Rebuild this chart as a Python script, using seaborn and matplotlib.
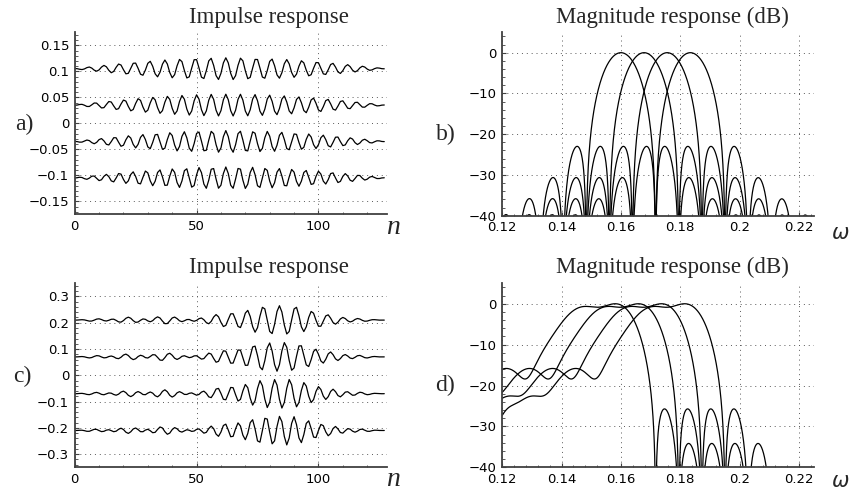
import numpy as np
import pandas as pd
import matplotlib
matplotlib.use("Agg")
import matplotlib.pyplot as plt
import matplotlib.ticker as ticker
import seaborn as sns

# ---- values ----
N_TAPS = 128                                   # filter length (n axis 0..127)
CENTER_FREQS = [0.1600, 0.1678, 0.1756, 0.1834]  # peaks of panel b / top edges of panel d
IR_OFFSETS_A = [0.105, 0.035, -0.035, -0.105]  # vertical offsets of the curves in a)
IR_PEAK_A = 0.021
IR_PEAK_POS_A = 62                             # a carrier peak near n=62
IR_OFFSETS_C = [0.21, 0.07, -0.07, -0.21]      # vertical offsets of the curves in c)
IR_PEAK_C = 0.055

# panel d, curve with top edge at 0.16: bins from 0.16 (1 bin = 1/128) and level in dB
D_BINS = [-8.12, -7.6, -7.12, -6.6, -6.12, -5.6, -5.0, -4.55, -4.1, -3.7, -3.23, -3.0,
          -2.77, -2.55, -2.34, -1.91, -1.7, -1.48, -1.25, -1.0, -0.75, -0.5, -0.25, 0.0,
          0.2, 0.39, 0.70, 0.90, 1.18, 1.35, 2.0, 3.0, 4.0]
D_DB = [-26.8, -24.0, -22.6, -22.0, -21.1, -17.5, -15.3, -16.3, -17.7, -14.5, -10.0, -7.8,
        -5.7, -4.0, -2.4, -0.8, -0.4, -0.15, 0.0, 0.0, 0.0, 0.0, 0.0, 0.0,
        0.0, -0.4, -4.9, -10.0, -20.0, -28.0, -25.5, -34.0, -39.5]
D_DELAY_PASS = 84     # burst position in c)
D_DELAY_EDGE = 98     # late tail of the burst (lower band edge)
D_DELAY_STOP = 32     # pre-ringing position in c)

n = np.arange(N_TAPS)
win = np.sin(np.pi * (n + 0.5) / N_TAPS)
freq = np.linspace(0.12, 0.226, 2200)


def mag_db(h, f):
    H = np.exp(-2j * np.pi * np.outer(f, n)) @ h
    m = np.abs(H)
    return 20 * np.log10(np.maximum(m / m.max(), 1e-9))


def tick_fmt(v, p):
    return ("%g" % round(v, 4)).replace("-", "\u2212")


# a) / b): sine-window bandpass filters
rows_a, rows_b = [], []
for i, (fc, off) in enumerate(zip(CENTER_FREQS, IR_OFFSETS_A)):
    h = win * np.cos(2 * np.pi * fc * (n - IR_PEAK_POS_A))
    rows_a.append(pd.DataFrame({"n": n, "h": off + IR_PEAK_A * h, "curve": i}))
    rows_b.append(pd.DataFrame({"w": freq, "db": mag_db(h, freq), "curve": i}))
df_a = pd.concat(rows_a)
df_b = pd.concat(rows_b)

# c) / d): combination of shifted sine-window kernels fitted to the read magnitude
K = 10
u = np.array(D_BINS)
db = np.array(D_DB)
amp = 10 ** (db / 20)
f_top = CENTER_FREQS[0]
fk = f_top - np.arange(K) / N_TAPS
fp = f_top + u / N_TAPS
A = (np.exp(-2j * np.pi * np.outer(fp, n)) * win) @ np.exp(2j * np.pi * np.outer(n, fk)) / win.sum()
delay = np.select([u > -1.5, u > -4.4], [D_DELAY_PASS, D_DELAY_EDGE], D_DELAY_STOP)
target = amp * np.exp(-2j * np.pi * fp * delay)
wts = 1 / np.maximum(amp, 0.03) * np.where(db > -3, 5.0, 1.0)
Aw = A * wts[:, None]
G = Aw.conj().T @ Aw
lam = 2e-3 * np.real(np.trace(G)) / K
for it in range(120):
    c = np.linalg.solve(G + lam * np.eye(K), Aw.conj().T @ (target * wts))
    target = amp * np.exp(1j * np.angle(A @ c))

rows_c, rows_d = [], []
env0 = np.abs(win * (np.exp(2j * np.pi * np.outer(n, fk)) @ c)).max()
for i, (fc, off) in enumerate(zip(CENTER_FREQS, IR_OFFSETS_C)):
    a = win * (np.exp(2j * np.pi * np.outer(n, fk + (fc - f_top))) @ c)
    h = np.real(a) / env0
    rows_c.append(pd.DataFrame({"n": n, "h": off + IR_PEAK_C * h, "curve": i}))
    rows_d.append(pd.DataFrame({"w": freq, "db": mag_db(h, freq), "curve": i}))
df_c = pd.concat(rows_c)
df_d = pd.concat(rows_d)

# ---- figure ----
sns.set_style("ticks")
plt.rcParams["font.family"] = ["DejaVu Sans"]
plt.rcParams["axes.unicode_minus"] = True

W, Hpx = 851, 493
fig = plt.figure(figsize=(W / 100, Hpx / 100), dpi=100)


def px_axes(l, t, r, b):
    return fig.add_axes([l / W, 1 - b / Hpx, (r - l) / W, (b - t) / Hpx])


ax_a = px_axes(74.7, 32.3, 386.7, 214.3)
ax_b = px_axes(502.3, 32.3, 814.3, 215.7)
ax_c = px_axes(74.7, 283.3, 386.7, 467.3)
ax_d = px_axes(502.3, 283.3, 814.3, 467.3)

for ax, df, x, y in [(ax_a, df_a, "n", "h"), (ax_b, df_b, "w", "db"),
                     (ax_c, df_c, "n", "h"), (ax_d, df_d, "w", "db")]:
    sns.lineplot(data=df, x=x, y=y, units="curve", estimator=None, color="black",
                 lw=0.9, ax=ax, legend=False, sort=False)
    ax.set_xlabel("")
    ax.set_ylabel("")
    sns.despine(ax=ax)
    for s in ["left", "bottom"]:
        ax.spines[s].set_linewidth(1.3)
        ax.spines[s].set_color("0.25")
    ax.grid(True, which="major", color="0.35", ls=(0, (1, 4)), lw=0.7)
    ax.tick_params(which="both", direction="in", labelsize=9.5, colors="0.25",
                   labelcolor="black")
    ax.tick_params(which="major", length=3, pad=4)
    ax.tick_params(which="minor", length=1.8)
    ax.xaxis.set_minor_locator(ticker.AutoMinorLocator(5))
    ax.yaxis.set_minor_locator(ticker.AutoMinorLocator(5))
    ax.yaxis.set_major_formatter(ticker.FuncFormatter(tick_fmt))
    ax.xaxis.set_major_formatter(ticker.FuncFormatter(tick_fmt))

for ax in (ax_a, ax_c):
    ax.set_xlim(0, 128)
    ax.set_xticks([0, 50, 100])
ax_a.set_ylim(-0.175, 0.175)
ax_a.set_yticks(np.arange(-0.15, 0.151, 0.05))
ax_c.set_ylim(-0.35, 0.35)
ax_c.set_yticks(np.arange(-0.3, 0.301, 0.1))
for ax in (ax_b, ax_d):
    ax.set_xlim(0.12, 0.2252)
    ax.set_xticks(np.arange(0.12, 0.221, 0.02))
    ax.set_ylim(-40, 5)
    ax.set_yticks([-40, -30, -20, -10, 0])

serif = ["Liberation Serif", "DejaVu Serif"]
for x, y, t in [(269, 23.3, "Impulse response"), (672.5, 23.3, "Magnitude response (dB)"),
                (269, 273.3, "Impulse response"), (672.5, 273.3, "Magnitude response (dB)")]:
    fig.text(x / W, 1 - y / Hpx, t, ha="center", va="baseline", family=serif, fontsize=16.5)
for x, y, t in [(24, 124, "a)"), (445.5, 134, "b)"), (22, 376.7, "c)"), (445.5, 385.7, "d)")]:
    fig.text(x / W, 1 - y / Hpx, t, ha="center", va="center", family=serif, fontsize=17)
for y in (227, 480):
    fig.text(393 / W, 1 - y / Hpx, "n", ha="center", va="center", family=serif,
             style="italic", fontsize=20)
for y in (233, 481):
    fig.text(840 / W, 1 - y / Hpx, r"$\omega$", ha="center", va="center", fontsize=15)

fig.savefig("out.png", dpi=100)
